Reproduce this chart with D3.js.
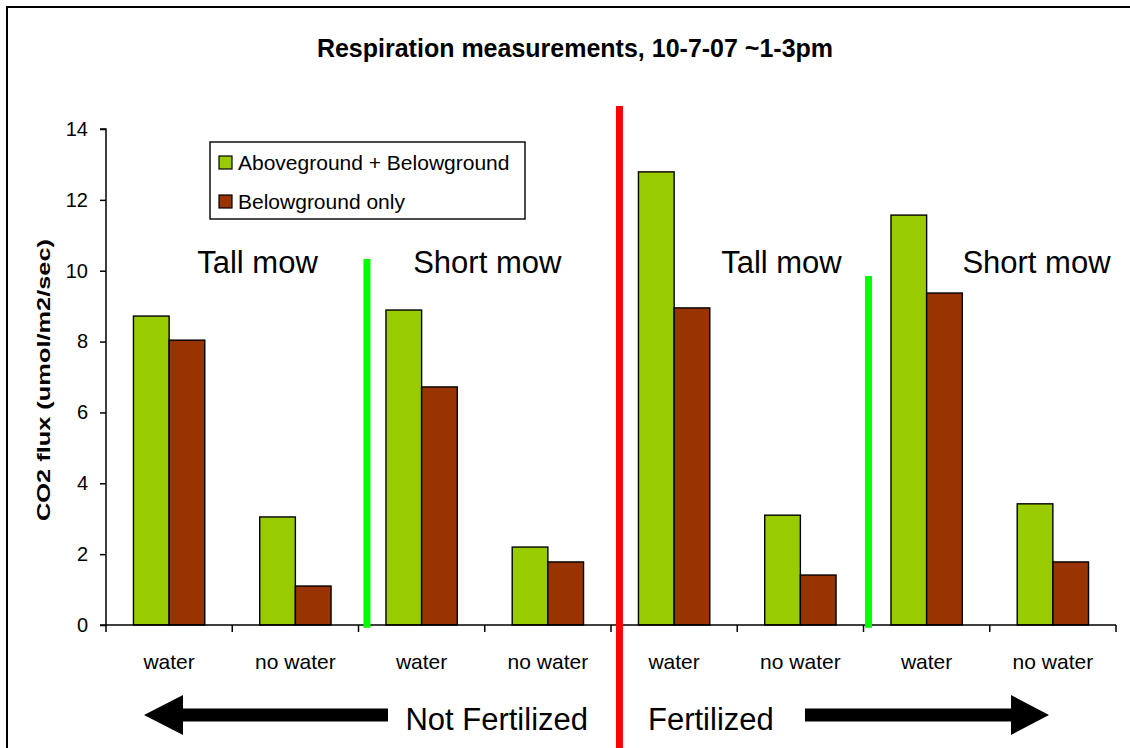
<!DOCTYPE html>
<html>
<head>
<meta charset="utf-8">
<script src="https://cdn.jsdelivr.net/npm/d3@7"></script>
<style>
  body { margin: 0; background: #fff; }
  svg { display: block; font-family: "Liberation Sans", Arial, sans-serif; }
</style>
</head>
<body>
<svg width="1130" height="748"></svg>
<script>
// data
var categories = ["water", "no water", "water", "no water", "water", "no water", "water", "no water"];
var mowLabels = ["Tall mow", "Short mow", "Tall mow", "Short mow"];
var mowPos = [1.2, 3.02, 5.35, 7.37];          // in category units
var seriesNames = ["Aboveground + Belowground", "Belowground only"];
var seriesColors = ["#99cc00", "#993300"];
var aboveBelow = [8.72, 3.05, 8.89, 2.20, 12.79, 3.10, 11.57, 3.42];
var belowOnly = [8.04, 1.10, 6.72, 1.78, 8.95, 1.41, 9.37, 1.78];
var yTicks = [0, 2, 4, 6, 8, 10, 12, 14];

var svg = d3.select("svg");

// frame
svg.append("rect")
	.attr("x", 7).attr("y", 7)
	.attr("width", 1140).attr("height", 760)
	.attr("fill", "none").attr("stroke", "#000").attr("stroke-width", 2);

var plotL = 106, plotR = 1116, plotT = 129, plotB = 625;

var ids = categories.map(function(d, i) { return i; });
var x0 = d3.scaleBand().domain(ids).range([plotL, plotR]);
var x1 = d3.scaleBand().domain([0, 1]).range([0, x0.bandwidth()]).paddingOuter(0.77);
var xi = d3.scaleLinear().domain([0, 8]).range([plotL, plotR]);
var y = d3.scaleLinear().domain([0, 14]).range([plotB, plotT]);

// title
svg.append("text")
	.attr("x", 575).attr("y", 57)
	.attr("text-anchor", "middle")
	.style("font-weight", "bold").style("font-size", "25px")
	.text("Respiration measurements, 10-7-07 ~1-3pm");

// y axis
var yAxis = svg.append("g")
	.attr("transform", "translate(" + plotL + ",0)")
	.call(d3.axisLeft(y).tickValues(yTicks).tickSize(6).tickPadding(12).tickFormat(d3.format("d")));
yAxis.selectAll("text").style("font-size", "20px").attr("fill", "#000");
yAxis.selectAll("line, path").attr("stroke", "#000").attr("stroke-width", 1.5);
yAxis.select("path").attr("d", "M-6," + plotT + "H0V" + plotB + "H-6");

// y axis title (stretched along its length like the original)
svg.append("text")
	.attr("transform", "translate(50,380) rotate(-90)")
	.attr("text-anchor", "middle")
	.attr("textLength", 282)
	.attr("lengthAdjust", "spacingAndGlyphs")
	.style("font-weight", "bold").style("font-size", "18px")
	.text("CO2 flux (umol/m2/sec)");

// bars
var series = [aboveBelow, belowOnly];
series.forEach(function(vals, s) {
	svg.append("g").selectAll("rect")
		.data(vals)
		.enter()
		.append("rect")
		.attr("x", function(d, i) { return x0(i) + x1(s); })
		.attr("y", function(d) { return y(d); })
		.attr("width", x1.bandwidth())
		.attr("height", function(d) { return y(0) - y(d); })
		.attr("fill", seriesColors[s])
		.attr("stroke", "#000").attr("stroke-width", 1.4);
});

// x axis
var xAxis = svg.append("g")
	.attr("transform", "translate(0," + plotB + ")");
xAxis.append("line")
	.attr("x1", plotL).attr("x2", plotR)
	.attr("stroke", "#000").attr("stroke-width", 1.5);
xAxis.selectAll(".tk")
	.data(d3.range(0, 9))
	.enter().append("line")
	.attr("x1", function(d) { return xi(d); }).attr("x2", function(d) { return xi(d); })
	.attr("y1", 0).attr("y2", 7)
	.attr("stroke", "#000").attr("stroke-width", 1.5);
xAxis.selectAll(".lbl")
	.data(categories)
	.enter().append("text")
	.attr("x", function(d, i) { return x0(i) + x0.bandwidth() / 2; })
	.attr("y", 44)
	.attr("text-anchor", "middle")
	.style("font-size", "21px")
	.text(function(d) { return d; });

// separator lines
svg.append("line")
	.attr("x1", xi(4.067)).attr("x2", xi(4.067))
	.attr("y1", 106).attr("y2", 748)
	.attr("stroke", "#ff0000").attr("stroke-width", 7);
[[2.067, 10.33], [6.04, 9.85]].forEach(function(p) {
	svg.append("line")
		.attr("x1", xi(p[0])).attr("x2", xi(p[0]))
		.attr("y1", y(p[1])).attr("y2", y(-0.08))
		.attr("stroke", "#00ff00").attr("stroke-width", 7);
});

// mow labels
svg.selectAll(".mow")
	.data(mowLabels)
	.enter().append("text")
	.attr("x", function(d, i) { return xi(mowPos[i]); })
	.attr("y", 273)
	.attr("text-anchor", "middle")
	.style("font-size", "31px")
	.text(function(d) { return d; });

// legend
var lg = svg.append("g");
lg.append("rect")
	.attr("x", 210).attr("y", 142).attr("width", 315).attr("height", 77)
	.attr("fill", "#fff").attr("stroke", "#000").attr("stroke-width", 1.4);
seriesNames.forEach(function(n, i) {
	lg.append("rect")
		.attr("x", 219).attr("y", 156 + i * 39).attr("width", 13).attr("height", 13)
		.attr("fill", seriesColors[i]).attr("stroke", "#000").attr("stroke-width", 1.2);
	lg.append("text")
		.attr("x", 238).attr("y", 170 + i * 39)
		.style("font-size", "21px")
		.text(n);
});

// fertilizer labels and arrows
svg.append("text")
	.attr("x", 588).attr("y", 730)
	.attr("text-anchor", "end")
	.style("font-size", "31px")
	.text("Not Fertilized");
svg.append("text")
	.attr("x", 648).attr("y", 730)
	.style("font-size", "31px")
	.text("Fertilized");

svg.append("path")
	.attr("d", "M144,715 L183,695 L183,708.5 L388,708.5 L388,721.5 L183,721.5 L183,735 Z")
	.attr("fill", "#000");
svg.append("path")
	.attr("d", "M1049,715 L1011,695 L1011,708.5 L805,708.5 L805,721.5 L1011,721.5 L1011,735 Z")
	.attr("fill", "#000");
</script>
</body>
</html>
